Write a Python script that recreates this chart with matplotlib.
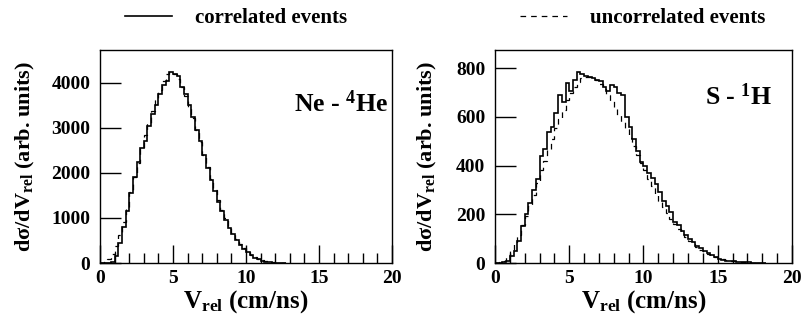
import numpy as np
import matplotlib
matplotlib.use("Agg")
import matplotlib.pyplot as plt
from matplotlib.ticker import MultipleLocator

# ------------------------------------------------------------
# Data (histograms, 0.25 cm/ns bins starting at 0)
# ------------------------------------------------------------
bin_width = 0.25

ne_corr = [0, 0, 0, 30, 150, 450, 800, 1150, 1550, 1900, 2250, 2550, 2700, 3050,
           3300, 3500, 3750, 3950, 4050, 4250, 4200, 4150, 3900, 3750, 3500, 3250,
           2950, 2700, 2400, 2100, 1850, 1600, 1350, 1150, 950, 780, 640, 520, 400,
           320, 240, 170, 120, 80, 50, 30, 20, 10, 5, 3, 0]
ne_uncorr = [10, 40, 90, 200, 380, 620, 900, 1220, 1570, 1900, 2230, 2550, 2850,
             3120, 3380, 3620, 3850, 4050, 4200, 4250, 4200, 4080, 3900, 3700, 3470,
             3220, 2950, 2680, 2400, 2130, 1870, 1620, 1390, 1180, 990, 820, 670,
             540, 430, 330, 250, 185, 135, 95, 65, 42, 27, 16, 9, 5, 2]

s_corr = [0, 0, 3, 8, 30, 50, 90, 150, 200, 245, 300, 345, 440, 470, 540, 560, 615,
          690, 660, 740, 705, 752, 785, 775, 770, 765, 760, 752, 748, 725, 705, 733,
          725, 700, 690, 600, 560, 510, 460, 415, 400, 370, 350, 325, 290, 255, 235,
          210, 170, 155, 130, 115, 100, 85, 70, 60, 48, 40, 33, 25, 18, 12, 10, 8,
          7, 5, 4, 3, 3, 2, 2, 1, 1]
s_uncorr = [0, 3, 10, 25, 50, 80, 115, 155, 195, 235, 280, 330, 380, 420, 465, 510,
            555, 590, 630, 670, 700, 725, 745, 760, 765, 765, 760, 750, 735, 715, 690,
            665, 640, 610, 580, 550, 515, 480, 445, 410, 380, 345, 315, 285, 255, 230,
            205, 180, 160, 140, 120, 105, 90, 77, 65, 55, 45, 37, 30, 24, 19, 15, 12,
            9, 7, 5, 4, 3, 2, 2, 1]

panels = [
    dict(corr=ne_corr, uncorr=ne_uncorr, ymax=4730, ystep=1000, ylab_x=-0.215,
         tag=r"Ne - $^{\mathbf{4}}$He", tag_xy=(0.985, 0.746)),
    dict(corr=s_corr, uncorr=s_uncorr, ymax=875, ystep=200, ylab_x=-0.19,
         tag=r"S - $^{\mathbf{1}}$H", tag_xy=(0.935, 0.78)),
]

# ------------------------------------------------------------
# Style
# ------------------------------------------------------------
plt.rcParams["font.family"] = ["Liberation Serif", "DejaVu Serif"]
plt.rcParams["font.weight"] = "bold"
plt.rcParams["axes.labelweight"] = "bold"
plt.rcParams["mathtext.fontset"] = "custom"
plt.rcParams["mathtext.rm"] = "Liberation Serif:bold"
plt.rcParams["mathtext.it"] = "Liberation Serif:bold"
plt.rcParams["mathtext.bf"] = "Liberation Serif:bold"

fig = plt.figure(figsize=(8.02, 3.27), dpi=100)
axes = [fig.add_axes([0.1247, 0.1957, 0.3641, 0.6514]),
        fig.add_axes([0.6172, 0.1957, 0.3703, 0.6514])]

for ax, p in zip(axes, panels):
    e1 = np.arange(len(p["corr"]) + 1) * bin_width
    e2 = np.arange(len(p["uncorr"]) + 1) * bin_width
    h_corr = ax.stairs(p["corr"], e1, baseline=None, color="black", linewidth=1.2,
                       label="correlated events")
    h_unc = ax.stairs(p["uncorr"], e2, baseline=None, color="black", linewidth=0.9,
                      linestyle=(0, (4.5, 4)), label="uncorrelated events")

    ax.set_xlim(0, 20)
    ax.set_ylim(0, p["ymax"])
    ax.xaxis.set_major_locator(MultipleLocator(5))
    ax.xaxis.set_minor_locator(MultipleLocator(1))
    ax.yaxis.set_major_locator(MultipleLocator(p["ystep"]))
    ax.tick_params(axis="x", which="major", direction="in", length=13, width=1,
                   labelsize=14, pad=5)
    ax.tick_params(axis="x", which="minor", direction="in", length=7, width=1)
    ax.tick_params(axis="y", which="major", direction="in", length=15, width=1,
                   labelsize=14, pad=7)
    for sp in ax.spines.values():
        sp.set_linewidth(1)

    ax.set_xlabel(r"V$_{\mathrm{rel}}$ (cm/ns)", fontsize=18, labelpad=1)
    ax.set_ylabel(r"dσ/dV$_{\mathrm{rel}}$ (arb. units)", fontsize=16)
    ax.yaxis.set_label_coords(p["ylab_x"], 0.5)
    ax.text(*p["tag_xy"], p["tag"], transform=ax.transAxes, ha="right", va="center",
            fontsize=18.5)

# ------------------------------------------------------------
# Legend across the top
# ------------------------------------------------------------
fig.legend(handles=[h_corr, h_unc], loc="center left", bbox_to_anchor=(0.156, 0.945),
           ncol=2, frameon=False, fontsize=15, handlelength=2.25, handletextpad=1.1,
           columnspacing=8.3, borderpad=0, borderaxespad=0)

plt.savefig("out.png", dpi=100)
